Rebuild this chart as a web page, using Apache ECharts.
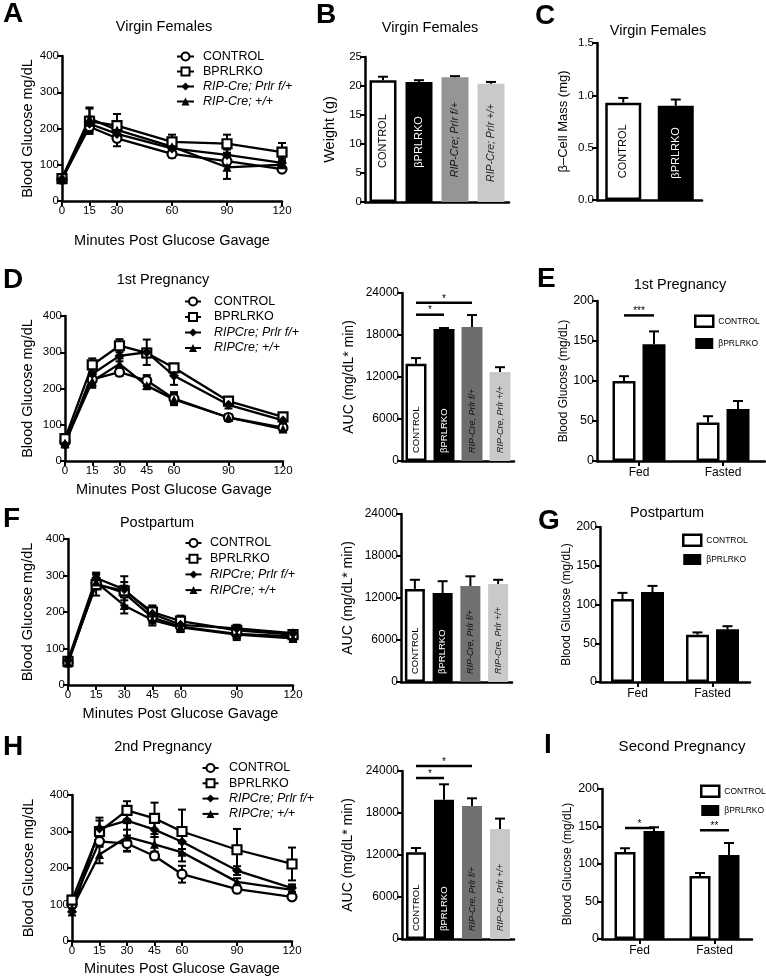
<!DOCTYPE html>
<html>
<head>
<meta charset="utf-8">
<title>OGTT and islet data, βPRLRKO</title>
<script src="https://cdn.jsdelivr.net/npm/echarts@6.0.0/dist/echarts.min.js"></script>
<style>
  html, body { margin: 0; padding: 0; background: #fff; }
  #chart { width: 766px; height: 976px; }
</style>
</head>
<body>
<div id="chart"></div>
<script>
const FONT = '"Liberation Sans", Arial, Helvetica, sans-serif';

// ---- time points (min after gavage)
const timesVirgin = [0, 15, 30, 60, 90, 120];
const timesOgtt = [0, 15, 30, 45, 60, 90, 120];

// ---- legend names
const namesVirgin = ['CONTROL', 'BPRLRKO', 'RIP-Cre; Prlr f/+', 'RIP-Cre; +/+'];
const namesPreg = ['CONTROL', 'BPRLRKO', 'RIPCre; Prlr f/+', 'RIPCre; +/+'];

// ---- A: virgin females OGTT
const aControl = [60, 205, 173, 130, 110, 88];
const aControlSem = [6, 15, 22, 10, 14, 8];
const aKO = [62, 220, 208, 163, 158, 135];
const aKOSem = [6, 35, 32, 20, 25, 25];
const aFlox = [61, 213, 185, 145, 127, 105];
const aFloxSem = [5, 20, 18, 15, 15, 12];
const aCre = [63, 228, 196, 150, 93, 100];
const aCreSem = [5, 30, 22, 12, 32, 12];

// ---- D: 1st pregnancy OGTT
const dControl = [55, 225, 245, 222, 172, 120, 92];
const dControlSem = [8, 18, 10, 15, 18, 8, 8];
const dKO = [62, 265, 318, 298, 257, 165, 122];
const dKOSem = [8, 18, 18, 12, 10, 10, 8];
const dFlox = [45, 240, 290, 300, 235, 155, 112];
const dFloxSem = [8, 15, 15, 35, 25, 10, 8];
const dCre = [50, 220, 268, 208, 170, 120, 88];
const dCreSem = [8, 18, 15, 10, 15, 8, 6];

// ---- F: postpartum OGTT
const fControl = [62, 278, 252, 185, 160, 140, 133];
const fControlSem = [5, 15, 20, 12, 15, 12, 8];
const fKO = [65, 275, 258, 200, 175, 150, 138];
const fKOSem = [6, 30, 40, 18, 15, 10, 10];
const fFlox = [68, 293, 262, 195, 165, 155, 142];
const fFloxSem = [5, 15, 20, 20, 10, 10, 8];
const fCre = [60, 282, 218, 178, 158, 138, 128];
const fCreSem = [5, 20, 22, 15, 12, 15, 10];

// ---- H: 2nd pregnancy OGTT
const hControl = [100, 273, 267, 233, 183, 142, 121];
const hControlSem = [10, 15, 22, 10, 23, 8, 6];
const hKO = [112, 300, 358, 336, 300, 250, 211];
const hKOSem = [12, 30, 25, 43, 60, 57, 45];
const hFlox = [80, 308, 330, 305, 272, 193, 145];
const hFloxSem = [10, 30, 25, 20, 20, 12, 10];
const hCre = [90, 237, 285, 265, 243, 162, 140];
const hCreSem = [10, 24, 38, 20, 25, 10, 10];

// ---- B: body weight, C: beta-cell mass
const weightGroups = ['CONTROL', 'βPRLRKO', 'RIP-Cre; Prlr f/+', 'RIP-Cre; Prlr +/+'];
const weight = [21.0, 20.7, 21.5, 20.4];
const weightSem = [0.6, 0.3, 0.2, 0.3];
const massGroups = ['CONTROL', 'βPRLRKO'];
const betaMass = [0.93, 0.90];
const betaMassSem = [0.045, 0.06];

// ---- AUC panels (D, F, H)
const aucGroups = ['CONTROL', 'βPRLRKO', 'RIP-Cre, Prlr f/+', 'RIP-Cre, Prlr +/+'];
const aucPreg1 = [13900, 18850, 19150, 12700];
const aucPreg1Sem = [800, 150, 1700, 700];
const aucPost = [13300, 12700, 13700, 14000];
const aucPostSem = [1300, 1700, 1400, 600];
const aucPreg2 = [12400, 19900, 19000, 15700];
const aucPreg2Sem = [600, 2200, 1100, 1500];
const aucPreg1Sig = [[0, 2, 22600], [0, 1, 20900]];
const aucPreg2Sig = [[0, 2, 24700], [0, 1, 23000]];
const aucSigLabels = ['*', '*'];

// ---- fed / fasted glucose (E, G, I)
const conditions = ['Fed', 'Fasted'];
const ePreg1Control = [100, 48];
const ePreg1ControlSem = [6, 8];
const ePreg1KO = [146, 65];
const ePreg1KOSem = [16, 10];
const ePreg1Sig = [[0, 0, 182]];
const ePreg1SigLabels = ['***'];
const gPostControl = [107, 61];
const gPostControlSem = [8, 3];
const gPostKO = [116, 68];
const gPostKOSem = [8, 4];
const iPreg2Control = [116, 84];
const iPreg2ControlSem = [5, 4];
const iPreg2KO = [144, 112];
const iPreg2KOSem = [5, 16];
const iPreg2Sig = [[0, 0, 148], [1, 1, 145]];
const iPreg2SigLabels = ['*', '**'];

// ---------------------------------------------------------------------------
const grid = [], xAxis = [], yAxis = [], series = [], title = [], legend = [];

const axisLineStyle = { show: true, lineStyle: { color: '#000', width: 2.5 } };
const tickStyle = { show: true, inside: false, length: 5, lineStyle: { color: '#000', width: 2 } };
const errStyle = { stroke: '#000', lineWidth: 2 };
const plain = function (v) { return String(v); };

const markers = [
  { symbol: 'circle', size: 9, fill: '#fff', border: 2.2 },
  { symbol: 'rect', size: 9, fill: '#fff', border: 2.2 },
  { symbol: 'diamond', size: 10, fill: '#000', border: 0 },
  { symbol: 'triangle', size: 9, fill: '#000', border: 0 }
];

function addGrid(rect, xOpt, yOpt) {
  const idx = grid.length;
  grid.push(Object.assign({ outerBoundsMode: 'none' }, rect));
  xAxis.push(Object.assign({ gridIndex: idx, splitLine: { show: false } }, xOpt));
  yAxis.push(Object.assign({ gridIndex: idx, splitLine: { show: false } }, yOpt));
  return idx;
}

function valueAxis(max, interval, name, nameGap, nameSize, labelSize, fmt) {
  return {
    type: 'value', min: 0, max: max, interval: interval,
    name: name, nameLocation: 'middle', nameGap: nameGap, nameRotate: 90,
    nameTextStyle: { fontFamily: FONT, fontSize: nameSize, color: '#000' },
    axisLine: axisLineStyle, axisTick: tickStyle,
    axisLabel: { fontFamily: FONT, fontSize: labelSize, color: '#000', margin: 3, formatter: fmt || plain }
  };
}

function errBoth(params, api) {
  const x = api.value(0), m = api.value(1), e = api.value(2);
  const hi = api.coord([x, m + e]), lo = api.coord([x, m - e]);
  const w = 4;
  return { type: 'group', children: [
    { type: 'line', shape: { x1: hi[0], y1: hi[1], x2: lo[0], y2: lo[1] }, style: errStyle },
    { type: 'line', shape: { x1: hi[0] - w, y1: hi[1], x2: hi[0] + w, y2: hi[1] }, style: errStyle },
    { type: 'line', shape: { x1: lo[0] - w, y1: lo[1], x2: lo[0] + w, y2: lo[1] }, style: errStyle }
  ] };
}

function errUp(dx, half) {
  return function (params, api) {
    const base = api.coord([api.value(0), api.value(1)]);
    const top = api.coord([api.value(0), api.value(1) + api.value(2)]);
    const x = base[0] + dx;
    return { type: 'group', children: [
      { type: 'line', shape: { x1: x, y1: base[1], x2: x, y2: top[1] }, style: errStyle },
      { type: 'line', shape: { x1: x - half, y1: top[1], x2: x + half, y2: top[1] }, style: errStyle }
    ] };
  };
}

function sigLines(labels, dxStart, dxEnd) {
  return function (params, api) {
    const a = api.coord([api.value(0), api.value(2)]);
    const b = api.coord([api.value(1), api.value(2)]);
    const x1 = a[0] + dxStart, x2 = b[0] + dxEnd;
    return { type: 'group', children: [
      { type: 'line', shape: { x1: x1, y1: a[1], x2: x2, y2: a[1] }, style: { stroke: '#000', lineWidth: 2.5 } },
      { type: 'text', x: (x1 + x2) / 2, y: a[1] - 4,
        style: { text: labels[params.dataIndex], fill: '#000', font: '10px ' + FONT, align: 'center', verticalAlign: 'middle' } }
    ] };
  };
}

function ogttPanel(rect, times, names, means, sems, xNameGap, yNameGap) {
  const idx = addGrid(rect, {
    type: 'value', min: 0, max: 120,
    name: 'Minutes Post Glucose Gavage', nameLocation: 'middle', nameGap: xNameGap,
    nameTextStyle: { fontFamily: FONT, fontSize: 14.5, color: '#000' },
    axisLine: axisLineStyle,
    axisTick: Object.assign({ customValues: times }, tickStyle),
    axisLabel: { customValues: times, fontFamily: FONT, fontSize: 11.5, color: '#000', margin: 4 }
  }, valueAxis(400, 100, 'Blood Glucose mg/dL', yNameGap, 14.5, 11.5));
  names.forEach(function (name, g) {
    const mk = markers[g];
    series.push({
      type: 'custom', xAxisIndex: idx, yAxisIndex: idx, silent: true, z: 2, clip: false,
      encode: { x: 0, y: 1 }, renderItem: errBoth,
      data: times.map(function (t, k) { return [t, means[g][k], sems[g][k]]; })
    });
    series.push({
      type: 'line', name: name, xAxisIndex: idx, yAxisIndex: idx, z: 3, clip: false,
      data: times.map(function (t, k) { return [t, means[g][k]]; }),
      symbol: mk.symbol, symbolSize: mk.size,
      lineStyle: { color: '#000', width: 2.3 },
      itemStyle: { color: mk.fill, borderColor: '#000', borderWidth: mk.border }
    });
  });
  return idx;
}

function lineLegend(names, left, top, itemWidth, pad, gap) {
  legend.push({
    data: names, orient: 'vertical', left: left, top: top, padding: 0,
    itemGap: gap, itemWidth: itemWidth, itemHeight: 10, selectedMode: false,
    formatter: function (n) { return n.indexOf('RIP') === 0 ? '{i|' + n + '}' : n; },
    textStyle: { fontFamily: FONT, fontSize: 12.5, color: '#000', padding: [0, 0, 0, pad],
      rich: { i: { fontFamily: FONT, fontSize: 12.5, fontStyle: 'italic', color: '#000' } } }
  });
}

const fillStyles = {
  control: { color: '#fff', borderColor: '#000', borderWidth: 2.5 },
  ko: { color: '#000' },
  light: { color: '#c9c9c9' }
};

function genotypeBars(rect, cats, values, sems, yOpt, o) {
  const idx = addGrid(rect, {
    type: 'category', data: cats, axisLine: axisLineStyle,
    axisTick: { show: false }, axisLabel: { show: false }
  }, yOpt);
  const styles = [fillStyles.control, fillStyles.ko, { color: o.flox }, fillStyles.light];
  const labelColors = ['#000', '#fff', '#111', '#222'];
  series.push({
    type: 'bar', name: o.name, xAxisIndex: idx, yAxisIndex: idx, barWidth: o.barWidth, z: 2,
    data: values.map(function (v, k) {
      return { value: v, itemStyle: styles[k], label: { color: labelColors[k] } };
    }),
    label: {
      show: true, rotate: 90,
      position: o.centered ? 'inside' : 'insideBottom',
      align: o.centered ? 'center' : 'left', verticalAlign: 'middle', distance: 8,
      fontFamily: FONT, fontSize: o.labelSize,
      formatter: function (p) { return p.name.indexOf('RIP') === 0 ? '{i|' + p.name + '}' : p.name; },
      rich: { i: { fontFamily: FONT, fontSize: o.labelSize - 0.5, fontStyle: 'italic' } }
    }
  });
  series.push({
    type: 'custom', xAxisIndex: idx, yAxisIndex: idx, silent: true, z: 3, clip: false,
    encode: { x: 0, y: 1 }, renderItem: errUp(0, 5),
    data: values.map(function (v, k) { return [k, v, sems[k]]; })
  });
  return idx;
}

function conditionBars(rect, ctrl, ctrlSem, ko, koSem, barWidth, gapPx, yNameGap) {
  const idx = addGrid(rect, {
    type: 'category', data: conditions, axisLine: axisLineStyle,
    axisTick: { show: true, alignWithLabel: true, length: 5, lineStyle: { color: '#000', width: 2 } },
    axisLabel: { fontFamily: FONT, fontSize: 12, color: '#000', margin: 6 }
  }, valueAxis(200, 50, 'Blood Glucose (mg/dL)', yNameGap, 12, 12.5));
  const half = (barWidth + gapPx) / 2;
  [[ 'CONTROL', ctrl, ctrlSem, fillStyles.control, -half ], [ 'βPRLRKO', ko, koSem, fillStyles.ko, half ]]
    .forEach(function (s) {
      series.push({
        type: 'bar', name: s[0], xAxisIndex: idx, yAxisIndex: idx, barWidth: barWidth,
        barGap: (gapPx / barWidth * 100) + '%', data: s[1], itemStyle: s[3], z: 2
      });
      series.push({
        type: 'custom', xAxisIndex: idx, yAxisIndex: idx, silent: true, z: 3, clip: false,
        encode: { x: 0, y: 1 }, renderItem: errUp(s[4], 5),
        data: s[1].map(function (v, k) { return [k, v, s[2][k]]; })
      });
    });
  return idx;
}

function barLegend(left, top, gap) {
  legend.push({
    orient: 'vertical', left: left, top: top, padding: 0, itemGap: gap,
    itemWidth: 18, itemHeight: 11, selectedMode: false,
    data: [
      { name: 'CONTROL', icon: 'rect', itemStyle: { color: '#fff', borderColor: '#000', borderWidth: 2.5 } },
      { name: 'βPRLRKO', icon: 'rect', itemStyle: { color: '#000', borderColor: '#000', borderWidth: 0 } }
    ],
    textStyle: { fontFamily: FONT, fontSize: 8.5, color: '#000' }
  });
}

function addSig(idx, data, labels, dxStart, dxEnd) {
  series.push({
    type: 'custom', xAxisIndex: idx, yAxisIndex: idx, silent: true, z: 4, clip: false,
    encode: { x: [0, 1], y: 2 }, renderItem: sigLines(labels, dxStart, dxEnd), data: data
  });
}

function addText(text, x, y, size, weight, align) {
  title.push({
    text: text, left: x, top: y, padding: 0,
    textAlign: align || 'center', textVerticalAlign: 'middle',
    textStyle: { fontFamily: FONT, fontSize: size, fontWeight: weight || 'normal', color: '#000' }
  });
}

// ---- row 1
ogttPanel({ left: 62, top: 56, width: 220, height: 145 }, timesVirgin, namesVirgin,
  [aControl, aKO, aFlox, aCre], [aControlSem, aKOSem, aFloxSem, aCreSem], 32, 25);
lineLegend(namesVirgin, 176, 50, 17, 4, 2);

genotypeBars({ left: 365, top: 57, width: 144, height: 145 }, weightGroups, weight, weightSem,
  valueAxis(25, 5, 'Weight (g)', 28, 14.5, 11.5),
  { name: 'Weight', barWidth: 27, flox: '#959595', centered: true, labelSize: 11 });

genotypeBars({ left: 597, top: 43, width: 105, height: 157 }, massGroups, betaMass, betaMassSem,
  valueAxis(1.5, 0.5, 'β–Cell Mass (mg)', 27.5, 13, 11.5, function (v) { return v.toFixed(1); }),
  { name: 'Beta cell mass', barWidth: 36, centered: true, labelSize: 11 });

// ---- row 2
ogttPanel({ left: 65, top: 316, width: 218, height: 145 }, timesOgtt, namesPreg,
  [dControl, dKO, dFlox, dCre], [dControlSem, dKOSem, dFloxSem, dCreSem], 21, 30);
lineLegend(namesPreg, 184, 295, 16, 8, 2.5);

const aucD = genotypeBars({ left: 402, top: 293, width: 112, height: 168 }, aucGroups, aucPreg1, aucPreg1Sem,
  valueAxis(24000, 6000, 'AUC (mg/dL* min)', 46, 14, 12),
  { name: 'AUC 1st pregnancy', barWidth: 21, flox: '#6d6d6d', centered: false, labelSize: 9.5 });
addSig(aucD, aucPreg1Sig, aucSigLabels, 0, 0);

const eIdx = conditionBars({ left: 597, top: 301, width: 168, height: 160 },
  ePreg1Control, ePreg1ControlSem, ePreg1KO, ePreg1KOSem, 23, 7, 26);
addSig(eIdx, ePreg1Sig, ePreg1SigLabels, -15, 15);
barLegend(694, 314.5, 10);

// ---- row 3
ogttPanel({ left: 68, top: 539, width: 225, height: 146 }, timesOgtt, namesPreg,
  [fControl, fKO, fFlox, fCre], [fControlSem, fKOSem, fFloxSem, fCreSem], 21, 33);
lineLegend(namesPreg, 184.5, 536.5, 16, 3.5, 2.7);

genotypeBars({ left: 401, top: 514, width: 111, height: 168 }, aucGroups, aucPost, aucPostSem,
  valueAxis(24000, 6000, 'AUC (mg/dL* min)', 46, 14, 12),
  { name: 'AUC postpartum', barWidth: 20, flox: '#717171', centered: false, labelSize: 9.5 });

conditionBars({ left: 600, top: 527, width: 150, height: 155 },
  gPostControl, gPostControlSem, gPostKO, gPostKOSem, 23, 7, 26);
barLegend(682, 533.5, 7);

// ---- row 4
ogttPanel({ left: 72, top: 795, width: 220, height: 146 }, timesOgtt, namesPreg,
  [hControl, hKO, hFlox, hCre], [hControlSem, hKOSem, hFloxSem, hCreSem], 20, 36);
lineLegend(namesPreg, 201.5, 761.5, 16, 5.5, 2.3);

const aucH = genotypeBars({ left: 402, top: 771, width: 112, height: 168 }, aucGroups, aucPreg2, aucPreg2Sem,
  valueAxis(24000, 6000, 'AUC (mg/dL* min)', 47, 14, 12),
  { name: 'AUC 2nd pregnancy', barWidth: 20, flox: '#717171', centered: false, labelSize: 9.5 });
addSig(aucH, aucPreg2Sig, aucSigLabels, 0, 0);

const iIdx = conditionBars({ left: 602, top: 789, width: 150, height: 150 },
  iPreg2Control, iPreg2ControlSem, iPreg2KO, iPreg2KOSem, 21, 8, 28);
addSig(iIdx, iPreg2Sig, iPreg2SigLabels, -14.5, 14.5);
barLegend(700, 784.5, 7);

// ---- panel letters and titles
addText('A', 3, 14, 28, 'bold', 'left');
addText('B', 316, 15, 28, 'bold', 'left');
addText('C', 535, 16, 28, 'bold', 'left');
addText('D', 3, 280, 28, 'bold', 'left');
addText('E', 537, 279, 28, 'bold', 'left');
addText('F', 3, 519, 28, 'bold', 'left');
addText('G', 538, 521, 28, 'bold', 'left');
addText('H', 3, 747, 28, 'bold', 'left');
addText('I', 544, 745, 28, 'bold', 'left');

addText('Virgin Females', 164, 27, 14.5);
addText('Virgin Females', 430, 28, 14.5);
addText('Virgin Females', 658, 31, 14.5);
addText('1st Pregnancy', 163, 280, 14.5);
addText('1st Pregnancy', 680, 285, 14.5);
addText('Postpartum', 157, 523, 14.5);
addText('Postpartum', 667, 513, 14.5);
addText('2nd Pregnancy', 163, 747, 14.5);
addText('Second Pregnancy', 682, 747, 15);

const chart = echarts.init(document.getElementById('chart'), null, { renderer: 'canvas' });
chart.setOption({
  backgroundColor: '#fff',
  animation: false,
  textStyle: { fontFamily: FONT },
  title: title,
  legend: legend,
  grid: grid,
  xAxis: xAxis,
  yAxis: yAxis,
  series: series
});
window.addEventListener('resize', function () { chart.resize(); });
</script>
</body>
</html>
